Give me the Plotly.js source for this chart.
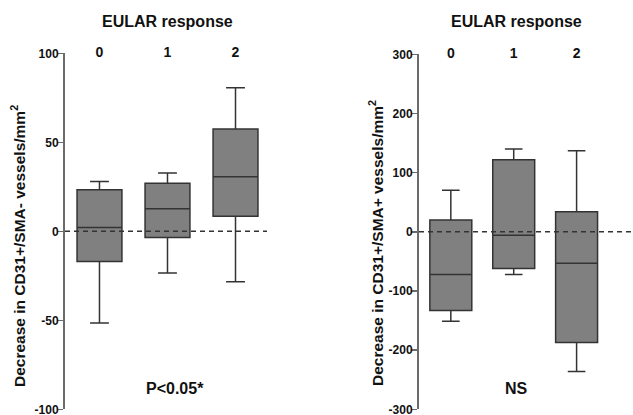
<!DOCTYPE html>
<html>
<head>
<meta charset="utf-8">
<script src="https://cdn.plot.ly/plotly-3.0.1.min.js"></script>
<style>html,body{margin:0;padding:0;background:#fff;}#chart{width:633px;height:415px;}</style>
</head>
<body>
<div id="chart"></div>
<script>
// Categories (EULAR response groups)
const categories = [0, 1, 2];
const categoryLabels = ['0', '1', '2'];

// Left panel: Decrease in CD31+/SMA- vessels/mm2
const leftLower  = [-51.5, -23.4, -28.3];
const leftQ1     = [-17.0, -3.5, 8.4];
const leftMedian = [2.2, 12.6, 30.7];
const leftQ3     = [23.4, 27.0, 57.5];
const leftUpper  = [28.0, 32.8, 80.6];
const leftTicks  = [-100, -50, 0, 50, 100];
const leftTickLabels = ['-100', '-50', '0', '50', '100'];

// Right panel: Decrease in CD31+/SMA+ vessels/mm2
const rightLower  = [-151, -72, -236];
const rightQ1     = [-133, -62, -187];
const rightMedian = [-72, -6, -53];
const rightQ3     = [20, 121.6, 33.8];
const rightUpper  = [70.4, 140, 137];
const rightTicks  = [-300, -200, -100, 0, 100, 200, 300];
const rightTickLabels = ['-300', '-200', '-100', '0', '100', '200', '300'];

const FONT = 'Liberation Sans, Arial, Helvetica, sans-serif';
const TXT = '#111111';
const AX = '#6b6b6b';

const bold = arr => arr.map(s => '<b>' + s + '</b>');

function boxTrace(xa, ya, lo, q1, med, q3, up, w) {
  return {
    type: 'box', xaxis: xa, yaxis: ya,
    x: categories, lowerfence: lo, q1: q1, median: med, q3: q3, upperfence: up,
    width: w, whiskerwidth: 0.42, boxpoints: false,
    fillcolor: '#808080', line: {color: '#333333', width: 1.5},
    hoverinfo: 'skip', showlegend: false
  };
}

const data = [
  boxTrace('x', 'y', leftLower, leftQ1, leftMedian, leftQ3, leftUpper, 0.66),
  boxTrace('x2', 'y2', rightLower, rightQ1, rightMedian, rightQ3, rightUpper, 0.667)
];

function xAxis(domain, range, anchor) {
  return {
    domain: domain, range: range, anchor: anchor, side: 'top',
    tickvals: categories, ticktext: bold(categoryLabels), ticks: '',
    showline: false, showgrid: false, zeroline: false,
    ticklabelstandoff: -7, ticklabeloverflow: 'allow',
    tickfont: {family: FONT, size: 14, color: TXT}
  };
}
function yAxis(domain, range, ticks, labels, anchor) {
  return {
    domain: domain, range: range, anchor: anchor,
    tickvals: ticks, ticktext: bold(labels), ticks: 'outside', ticklen: 6, tickwidth: 1.5, tickcolor: AX,
    showline: true, linecolor: AX, linewidth: 2,
    showgrid: false, zeroline: false, ticklabeloverflow: 'allow',
    ticklabelstandoff: -4,
    tickfont: {family: FONT, size: 12, color: TXT}
  };
}

function ann(text, x, y, size, angle) {
  return {text: text, xref: 'paper', yref: 'paper', x: x / 633, y: 1 - y / 415,
    xanchor: 'center', yanchor: 'middle', textangle: angle || 0, showarrow: false,
    font: {size: size, family: FONT, color: TXT}};
}

const layout = {
  width: 633, height: 415,
  margin: {l: 0, r: 0, t: 0, b: 0},
  paper_bgcolor: '#ffffff', plot_bgcolor: 'rgba(0,0,0,0)',
  font: {family: FONT, color: TXT},
  xaxis: xAxis([65/633, 267/633], [-0.507, 2.463], 'y'),
  yaxis: yAxis([1 - 409.3/415, 1 - 53.3/415], [-100, 100], leftTicks, leftTickLabels, 'x'),
  xaxis2: xAxis([419/633, 1], [-0.506, 2.897], 'y2'),
  yaxis2: yAxis([1 - 409.3/415, 1 - 54.3/415], [-300, 300], rightTicks, rightTickLabels, 'x2'),
  shapes: [
    {type: 'line', xref: 'x domain', yref: 'y', x0: 0, x1: 1, y0: 0, y1: 0,
     line: {color: '#333333', width: 1.5, dash: '5px,4px'}, layer: 'above'},
    {type: 'line', xref: 'x2 domain', yref: 'y2', x0: 0, x1: 1, y0: 0, y1: 0,
     line: {color: '#333333', width: 1.5, dash: '5px,4px'}, layer: 'above'}
  ],
  annotations: [
    ann('<b>EULAR response</b>', 167, 21, 16),
    ann('<b>EULAR response</b>', 516.7, 21, 16),
    ann('<b>Decrease in CD31+/SMA- vessels/mm<sup>2</sup></b>', 18, 246, 15.5, -90),
    ann('<b>Decrease in CD31+/SMA+ vessels/mm<sup>2</sup></b>', 376, 243, 15.5, -90),
    ann('<b>P&lt;0.05*</b>', 175.3, 388, 16),
    ann('<b>NS</b>', 516.5, 388, 16)
  ]
};

Plotly.newPlot('chart', data, layout, {staticPlot: true, displayModeBar: false});
</script>
</body>
</html>
